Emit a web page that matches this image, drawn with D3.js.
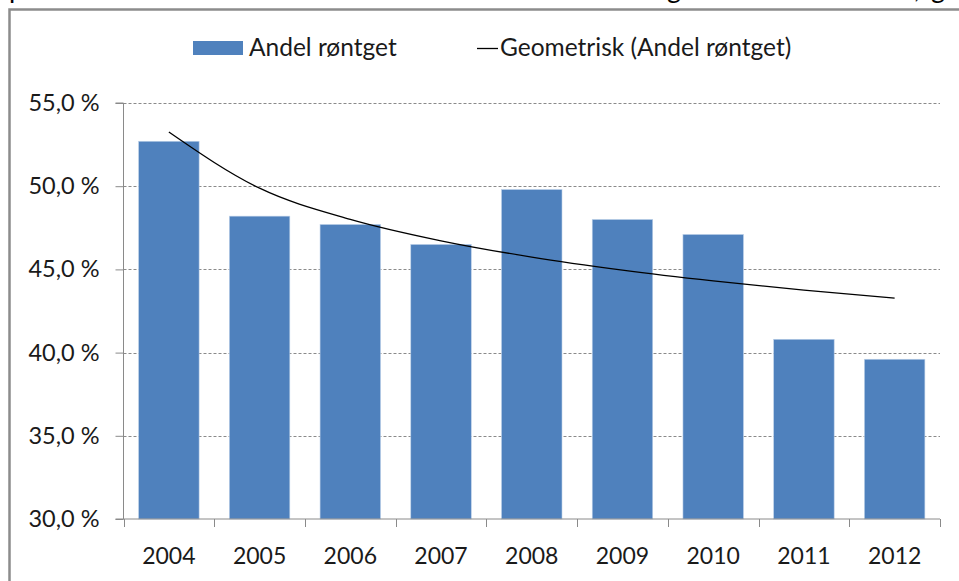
<!DOCTYPE html>
<html><head><meta charset="utf-8">
<script src="https://cdn.jsdelivr.net/npm/d3@7"></script>
<style>html,body{margin:0;padding:0;background:#fff;overflow:hidden}svg{display:block}</style>
</head><body>
<svg id="c" width="959" height="581"></svg>
<script>
const years = ["2004","2005","2006","2007","2008","2009","2010","2011","2012"];
const andelRontget = [52.7, 48.2, 47.7, 46.5, 49.8, 48.0, 47.1, 40.8, 39.6];
const geometriskTrend = [53.26, 49.88, 48.01, 46.72, 45.74, 44.96, 44.31, 43.75, 43.27];
const yTicks = [30, 35, 40, 45, 50, 55];
const seriesNames = ["Andel røntget", "Geometrisk (Andel røntget)"];

const FONT = "Lato, 'Open Sans', sans-serif";
const svg = d3.select("#c");

// fragments of the cut-off document line above the chart
svg.append("g").attr("font-family", FONT).attr("font-size", 27).attr("fill", "#000")
  .selectAll("text").data([{t:"p",x:9},{t:"g",x:667},{t:",",x:914},{t:"g",x:931}])
  .join("text").attr("x", d=>d.x).attr("y", -2).text(d=>d.t);

// chart border
svg.append("rect").attr("x", 9.5).attr("y", 9.5).attr("width", 1000).attr("height", 1000)
  .attr("fill", "none").attr("stroke", "#8c8c8c").attr("stroke-width", 2.5);

const x = d3.scaleBand().domain(years).range([123.5, 940]).paddingInner(1/3).paddingOuter(1/6);
const xb = d3.scaleBand().domain(years).range([123.5, 940]);
const y = d3.scaleLinear().domain([30, 55]).range([519, 103]);

// gridlines
svg.append("g").selectAll("line").data(yTicks.filter(v=>v>30)).join("line")
  .attr("x1", 123.5).attr("x2", 940).attr("y1", d=>Math.round(y(d))+0.5).attr("y2", d=>Math.round(y(d))+0.5)
  .attr("stroke", "#8a8a8a").attr("stroke-width", 1).attr("stroke-dasharray", "3,2");

// bars
svg.append("g").selectAll("rect").data(andelRontget).join("rect")
  .attr("x", (d,i)=>x(years[i])).attr("width", x.bandwidth())
  .attr("y", d=>y(d)).attr("height", d=>y(30)-y(d))
  .attr("fill", "#4f81bd").attr("stroke", "#bcd0e8").attr("stroke-width", 0.6);

// trend line
const line = d3.line().x((d,i)=>xb(years[i]) + xb.bandwidth()/2).y(d=>y(d)).curve(d3.curveMonotoneX);
svg.append("path").datum(geometriskTrend).attr("d", line)
  .attr("fill", "none").attr("stroke", "#000").attr("stroke-width", 1.3);

// y axis
const yAxis = d3.axisLeft(y).tickValues(yTicks).tickSize(8).tickPadding(16)
  .tickFormat(d=>d3.format(".1f")(d).replace(".", ",") + " %");
const gy = svg.append("g").attr("transform", "translate(123.5,0)").call(yAxis);
gy.select(".domain").attr("stroke", "#8a8a8a").attr("d", `M-8,${y(55)}H0V${y(30)}`);
gy.selectAll(".tick line").attr("stroke", "#8a8a8a");
gy.selectAll("text").attr("font-family", FONT).attr("font-size", 23.5).attr("fill", "#1a1a1a");

// x axis
const xAxis = d3.axisBottom(xb).tickSize(0).tickPadding(29);
const gx = svg.append("g").attr("transform", `translate(0,${y(30)})`).call(xAxis);
gx.select(".domain").attr("stroke", "#8a8a8a").attr("d", "M115.5,0H940");
gx.selectAll("text").attr("font-family", FONT).attr("font-size", 23).attr("fill", "#1a1a1a");
// category boundary tick marks
svg.append("g").selectAll("line").data(d3.range(years.length+1)).join("line")
  .attr("x1", i=>Math.round(123.5 + i*xb.step())+0.5).attr("x2", i=>Math.round(123.5 + i*xb.step())+0.5)
  .attr("y1", y(30)).attr("y2", y(30)+8).attr("stroke", "#8a8a8a");

// legend
const lg = svg.append("g").attr("font-family", FONT).attr("font-size", 24.5).attr("fill", "#1a1a1a");
lg.append("rect").attr("x", 193).attr("y", 41).attr("width", 50).attr("height", 14).attr("fill", "#4f81bd");
lg.append("text").attr("x", 249).attr("y", 56).text(seriesNames[0]);
lg.append("line").attr("x1", 477).attr("x2", 498).attr("y1", 48.5).attr("y2", 48.5).attr("stroke", "#000").attr("stroke-width", 1.3);
lg.append("text").attr("x", 500).attr("y", 56).text(seriesNames[1]);
</script>
</body></html>
